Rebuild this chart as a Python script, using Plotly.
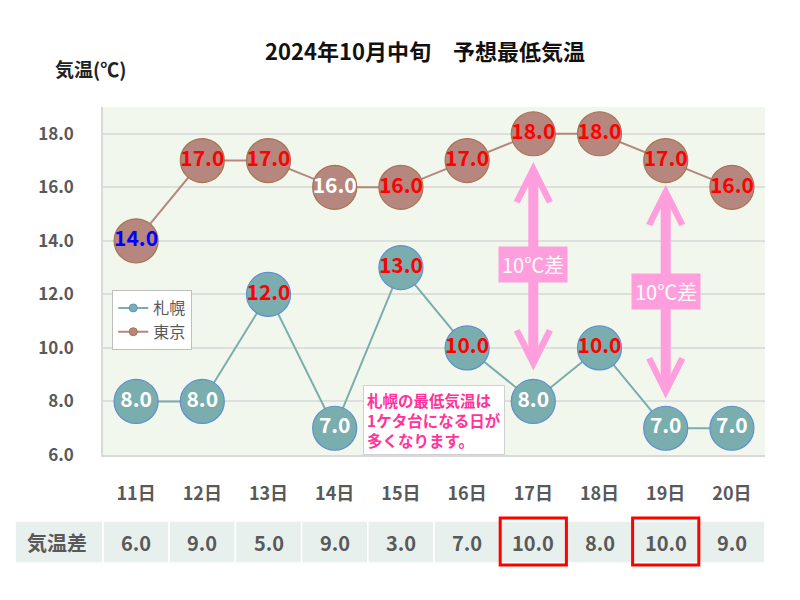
import plotly.graph_objects as go

# ---- data ----
days = ["11日", "12日", "13日", "14日", "15日", "16日", "17日", "18日", "19日", "20日"]
sapporo = [8.0, 8.0, 12.0, 7.0, 13.0, 10.0, 8.0, 10.0, 7.0, 7.0]
tokyo = [14.0, 17.0, 17.0, 16.0, 16.0, 17.0, 18.0, 18.0, 17.0, 16.0]
diff = [6.0, 9.0, 5.0, 9.0, 3.0, 7.0, 10.0, 8.0, 10.0, 9.0]
sapporo_label_colors = ["white", "white", "red", "white", "red", "red", "white", "red", "white", "white"]
tokyo_label_colors = ["blue", "red", "red", "white", "red", "red", "red", "red", "red", "red"]
highlight_days = ["17日", "19日"]
y_ticks = [6, 8, 10, 12, 14, 16, 18]
# arrows: (day, top value, bottom value, label value)
arrows = [("17日", 16.95, 9.1, 13.1), ("19日", 16.1, 8.05, 12.1)]

FONT = "Noto Sans CJK JP"
GRAY = "#595959"
PINK = "#FF9EDD"
TOKYO_FILL = "#b5877e"
TOKYO_EDGE = "#a8734f"
SAP_FILL = "#7aaeae"
SAP_EDGE = "#5f8fcf"

fig = go.Figure()

fig.add_trace(go.Scatter(
    x=days, y=tokyo, mode="lines+markers+text", name="東京", showlegend=False,
    line=dict(color=TOKYO_FILL, width=2),
    marker=dict(size=44, color=TOKYO_FILL, line=dict(color=TOKYO_EDGE, width=1.2)),
    text=[f"{v:.1f}" for v in tokyo], textposition="middle center",
    textfont=dict(family=FONT, size=21, color=tokyo_label_colors, weight="bold"),
    cliponaxis=False,
))
fig.add_trace(go.Scatter(
    x=days, y=sapporo, mode="lines+markers+text", name="札幌", showlegend=False,
    line=dict(color=SAP_FILL, width=2),
    marker=dict(size=44, color=SAP_FILL, line=dict(color=SAP_EDGE, width=1.2)),
    text=[f"{v:.1f}" for v in sapporo], textposition="middle center",
    textfont=dict(family=FONT, size=21, color=sapporo_label_colors, weight="bold"),
    cliponaxis=False,
))
# legend entries (small markers)
fig.add_trace(go.Scatter(
    x=[None], y=[None], mode="lines+markers", name="札幌",
    line=dict(color=SAP_FILL, width=2),
    marker=dict(size=8, color=SAP_FILL, line=dict(color=SAP_EDGE, width=1)),
))
fig.add_trace(go.Scatter(
    x=[None], y=[None], mode="lines+markers", name="東京",
    line=dict(color=TOKYO_FILL, width=2),
    marker=dict(size=8, color=TOKYO_FILL, line=dict(color=TOKYO_EDGE, width=1)),
))

annotations = []
shapes = []

# double arrows and labels
for d, top, bottom, lab in arrows:
    annotations.append(dict(
        x=d, y=top, ax=d, ay=bottom, xref="x", yref="y", axref="x", ayref="y",
        text="", showarrow=True, arrowside="end+start",
        arrowhead=5, startarrowhead=5, arrowsize=0.65, startarrowsize=0.65,
        arrowwidth=10, arrowcolor=PINK,
    ))
for d, top, bottom, lab in arrows:
    annotations.append(dict(
        x=d, y=lab, xref="x", yref="y", text="10℃差", showarrow=False,
        font=dict(family=FONT, size=20, color="white"),
        bgcolor=PINK, borderpad=3,
    ))

# note box
annotations.append(dict(
    x=4.5, y=7.3, xref="x", yref="y", showarrow=False, align="left",
    text="札幌の最低気温は<br>1ケタ台になる日が<br>多くなります。",
    font=dict(family=FONT, size=15.5, color="#FF3399", weight="bold"),
    bgcolor="white", bordercolor="#d0d0d0", borderwidth=1, borderpad=3,
))

plot_l, plot_w, plot_b, plot_h = 103, 662, 455, 348
def py(px):
    return (plot_b - px) / plot_h

def pxx(px):
    return (px - plot_l) / plot_w

# title and axis title
annotations.append(dict(
    x=pxx(425), y=py(50), xref="paper", yref="paper", showarrow=False,
    text="2024年10月中旬　予想最低気温", xanchor="center", yanchor="middle",
    font=dict(family=FONT, size=22, color="#111", weight="bold"),
))
annotations.append(dict(
    x=pxx(53), y=py(68), xref="paper", yref="paper", xanchor="left", yanchor="middle",
    showarrow=False, text="気温(℃)",
    font=dict(family=FONT, size=19, color="#222", weight="bold"),
))

# table
row_y0, row_y1 = py(563), py(521)
shapes.append(dict(type="rect", xref="paper", yref="paper",
                   x0=pxx(15), x1=0, y0=row_y0, y1=row_y1,
                   fillcolor="#e8f0ee", line=dict(color="white", width=1.5), layer="below"))
annotations.append(dict(x=pxx(57), y=py(542), xref="paper", yref="paper",
                        text="気温差", showarrow=False, xanchor="center", yanchor="middle",
                        font=dict(family=FONT, size=20, color=GRAY, weight="bold")))
n = len(days)
for i, (d, v) in enumerate(zip(days, diff)):
    shapes.append(dict(type="rect", xref="paper", yref="paper",
                       x0=i / n, x1=(i + 1) / n, y0=row_y0, y1=row_y1,
                       fillcolor="#e8f0ee", line=dict(color="white", width=1.5), layer="below"))
    annotations.append(dict(x=d, y=py(542), xref="x", yref="paper", text=f"{v:.1f}",
                            showarrow=False, yanchor="middle",
                            font=dict(family=FONT, size=20, color=GRAY, weight="bold")))
    if d in highlight_days:
        shapes.append(dict(type="rect", xref="paper", yref="paper",
                           x0=i / n, x1=(i + 1) / n, y0=py(565), y1=py(518),
                           line=dict(color="red", width=3), layer="above"))

fig.update_layout(
    width=800, height=600,
    margin=dict(l=103, r=35, t=107, b=145),
    paper_bgcolor="white", plot_bgcolor="#f2f7ed",
    font=dict(family=FONT, color=GRAY),
    showlegend=True,
    legend=dict(x=0.014, y=0.474, xanchor="left", yanchor="top",
                bgcolor="white", bordercolor="#bfbfbf", borderwidth=1,
                font=dict(family=FONT, size=16, color=GRAY), tracegroupgap=0),
    annotations=annotations,
    shapes=shapes,
    xaxis=dict(type="category", range=[-0.5, 9.5], showgrid=False,
               showline=True, linecolor="#d9d9d9", linewidth=1.5,
               ticks="outside", ticklen=22, tickcolor="rgba(0,0,0,0)",
               tickfont=dict(family=FONT, size=18, color=GRAY, weight="bold")),
    yaxis=dict(range=[6, 19], tickvals=y_ticks, tickformat=".1f",
               showgrid=True, gridcolor="#dcdfdc", gridwidth=1.5, zeroline=False,
               showline=True, linecolor="#d9d9d9", linewidth=1.5,
               ticks="outside", ticklen=24, tickcolor="rgba(0,0,0,0)",
               tickfont=dict(family=FONT, size=17, color=GRAY, weight="bold")),
)

fig.write_html("out.html")
